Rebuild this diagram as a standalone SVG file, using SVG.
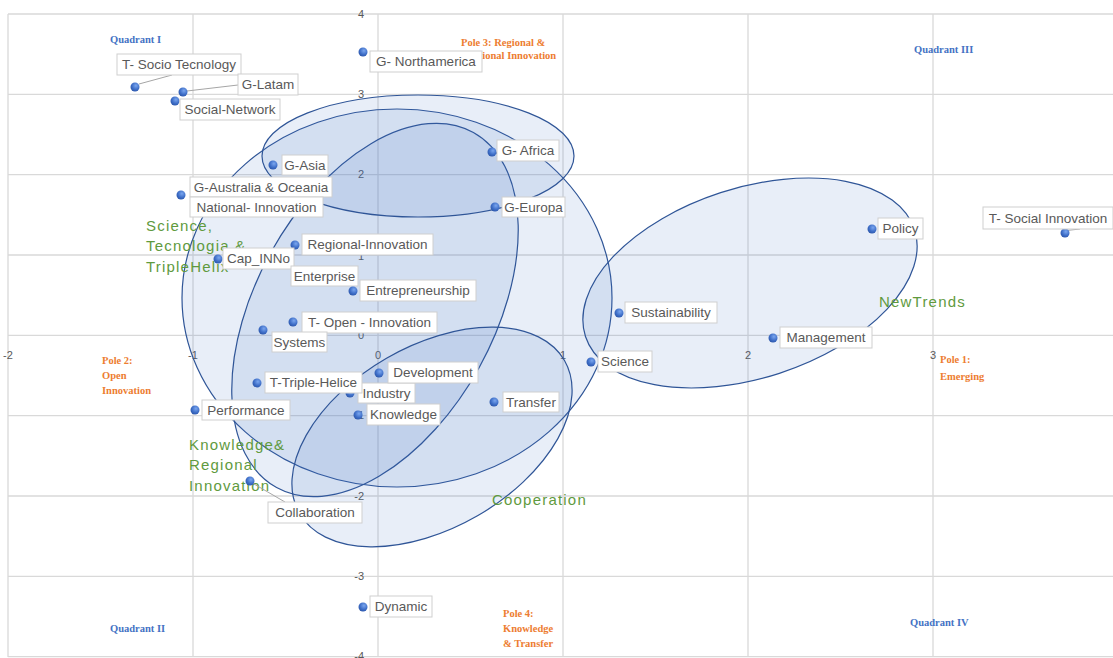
<svg xmlns="http://www.w3.org/2000/svg" width="1113" height="658" viewBox="0 0 1113 658">
<defs>
<style>
.grid{stroke:#d9d9d9;stroke-width:1.3;fill:none}
.axy{font-family:"Liberation Sans",Arial,sans-serif;font-size:11px;fill:#595959;text-anchor:end}
.axx{font-family:"Liberation Sans",Arial,sans-serif;font-size:11px;fill:#595959;text-anchor:middle}
.ell{fill:#4472c4;fill-opacity:0.12;stroke:#2f5597;stroke-width:1.2}
.grp{font-family:"Liberation Sans",Arial,sans-serif;font-size:15px;fill:#5f9a3e;letter-spacing:1.2px}
.pole{font-family:"Liberation Serif","Times New Roman",serif;font-size:10.5px;font-weight:bold;fill:#ed7d31}
.quad{font-family:"Liberation Serif","Times New Roman",serif;font-size:10.5px;font-weight:bold;fill:#4472c4}
.dot{fill:url(#dg)}
.box{fill:#ffffff;stroke:#cfcfcf;stroke-width:1}
.lbl{font-family:"Liberation Sans",Arial,sans-serif;font-size:13.5px;fill:#595959;text-anchor:middle}
.lead{stroke:#a6a6a6;stroke-width:1;fill:none}
</style>
<radialGradient id="dg" cx="0.6" cy="0.35" r="0.7">
<stop offset="0" stop-color="#7aa6ef"/>
<stop offset="0.6" stop-color="#3f6fc8"/>
<stop offset="1" stop-color="#2a54a8"/>
</radialGradient>
</defs>
<rect width="1113" height="658" fill="#ffffff"/>
<g id="grid">
<path class="grid" d="M8 14V657M193 14V657M378 14V657M563 14V657M748 14V657M933 14V657"/>
<path class="grid" d="M8 14H1113M8 94.3H1113M8 174.6H1113M8 255H1113M8 335.3H1113M8 415.6H1113M8 496H1113M8 576.3H1113M8 656.6H1113"/>
</g>
<g id="axis-labels">
<text class="axy" x="364" y="18">4</text>
<text class="axy" x="364" y="98">3</text>
<text class="axy" x="364" y="178">2</text>
<text class="axy" x="364" y="260">1</text>
<text class="axy" x="364" y="339">0</text>
<text class="axy" x="364" y="419">-1</text>
<text class="axy" x="364" y="500">-2</text>
<text class="axy" x="364" y="580">-3</text>
<text class="axy" x="364" y="660">-4</text>
<text class="axx" x="8" y="359">-2</text>
<text class="axx" x="193" y="359">-1</text>
<text class="axx" x="378" y="359">0</text>
<text class="axx" x="563" y="359">1</text>
<text class="axx" x="748" y="359">2</text>
<text class="axx" x="933" y="359">3</text>
</g>
<g id="clusters">
<ellipse id="cluster-science" class="ell" cx="397" cy="298" rx="215" ry="189"/>
<ellipse id="cluster-knowledge" class="ell" cx="375" cy="310" rx="203" ry="119" transform="rotate(-61 375 310)"/>
<ellipse id="cluster-geo" class="ell" cx="418" cy="156" rx="156" ry="61"/>
<ellipse id="cluster-cooperation" class="ell" cx="432" cy="437" rx="153" ry="91" transform="rotate(-30 432 437)"/>
<ellipse id="cluster-newtrends" class="ell" cx="750" cy="283" rx="173" ry="95" transform="rotate(-18 750 283)"/>
</g>
<g id="group-labels">
<text class="grp" x="146" y="231">Science,</text>
<text class="grp" x="146" y="251">Tecnologia &amp;</text>
<text class="grp" x="146" y="272">TripleHelix</text>
<text class="grp" x="189" y="450">Knowledge&amp;</text>
<text class="grp" x="189" y="470">Regional</text>
<text class="grp" x="189" y="491">Innovation</text>
<text class="grp" x="492" y="505">Cooperation</text>
<text class="grp" x="879" y="307">NewTrends</text>
</g>
<g id="poles">
<text class="pole" x="461" y="46">Pole 3: Regional &amp;</text>
<text class="pole" x="466" y="59">National Innovation</text>
<text class="pole" x="102" y="364">Pole 2:</text>
<text class="pole" x="102" y="379">Open</text>
<text class="pole" x="102" y="394">Innovation</text>
<text class="pole" x="940" y="363">Pole 1:</text>
<text class="pole" x="940" y="380">Emerging</text>
<text class="pole" x="503" y="617">Pole 4:</text>
<text class="pole" x="503" y="632">Knowledge</text>
<text class="pole" x="503" y="647">&amp; Transfer</text>
</g>
<g id="quadrants">
<text class="quad" x="110" y="43">Quadrant I</text>
<text class="quad" x="914" y="53">Quadrant III</text>
<text class="quad" x="110" y="632">Quadrant II</text>
<text class="quad" x="910" y="626">Quadrant IV</text>
</g>
<g id="connectors">
<path class="lead" d="M139 84L172 75"/>
<path class="lead" d="M187 91L238 85"/>
<path class="lead" d="M254 484L285 502"/>
<path class="lead" d="M1062 231L1080 229"/>
</g>
<g id="n-socio"><circle class="dot" cx="135" cy="87" r="4.5"/><rect class="box" x="117" y="54" width="124" height="21"/><text class="lbl" x="179" y="69">T- Socio Tecnology</text></g>
<g id="n-latam"><circle class="dot" cx="183" cy="92" r="4.5"/><rect class="box" x="238" y="74" width="60" height="21"/><text class="lbl" x="268" y="89">G-Latam</text></g>
<g id="n-social-network"><circle class="dot" cx="175" cy="101" r="4.5"/><rect class="box" x="180" y="99" width="100" height="21"/><text class="lbl" x="230" y="114">Social-Network</text></g>
<g id="n-northamerica"><circle class="dot" cx="363" cy="52" r="4.5"/><rect class="box" x="370" y="51" width="112" height="21"/><text class="lbl" x="426" y="66">G- Northamerica</text></g>
<g id="n-asia"><circle class="dot" cx="273" cy="165" r="4.5"/><rect class="box" x="282" y="155" width="46" height="20"/><text class="lbl" x="305" y="170">G-Asia</text></g>
<g id="n-australia"><circle class="dot" cx="181" cy="195" r="4.5"/><rect class="box" x="190" y="177" width="142" height="20"/><text class="lbl" x="261" y="192">G-Australia &amp; Oceania</text></g>
<g id="n-national"><rect class="box" x="190" y="197" width="133" height="20"/><text class="lbl" x="256.5" y="212">National- Innovation</text></g>
<g id="n-africa"><circle class="dot" cx="492" cy="152" r="4.5"/><rect class="box" x="497" y="140" width="62" height="21"/><text class="lbl" x="528" y="155">G- Africa</text></g>
<g id="n-europa"><circle class="dot" cx="495" cy="207" r="4.5"/><rect class="box" x="502" y="197" width="63" height="20"/><text class="lbl" x="533.5" y="212">G-Europa</text></g>
<g id="n-regional"><circle class="dot" cx="295" cy="245" r="4.5"/><rect class="box" x="302" y="234" width="131" height="21"/><text class="lbl" x="367.5" y="249">Regional-Innovation</text></g>
<g id="n-capinno"><circle class="dot" cx="218" cy="259" r="4.5"/><rect class="box" x="223" y="248" width="71" height="21"/><text class="lbl" x="258.5" y="263">Cap_INNo</text></g>
<g id="n-enterprise"><rect class="box" x="291" y="266" width="67" height="20"/><text class="lbl" x="324.5" y="281">Enterprise</text></g>
<g id="n-entrepreneurship"><circle class="dot" cx="353" cy="291" r="4.5"/><rect class="box" x="360" y="280" width="116" height="21"/><text class="lbl" x="418" y="295">Entrepreneurship</text></g>
<g id="n-open"><circle class="dot" cx="293" cy="322" r="4.5"/><rect class="box" x="302" y="312" width="135" height="21"/><text class="lbl" x="369.5" y="327">T- Open - Innovation</text></g>
<g id="n-systems"><circle class="dot" cx="263" cy="330" r="4.5"/><rect class="box" x="272" y="332" width="55" height="20"/><text class="lbl" x="299.5" y="347">Systems</text></g>
<g id="n-industry"><circle class="dot" cx="350" cy="393" r="4.5"/><rect class="box" x="358" y="383" width="57" height="20"/><text class="lbl" x="386.5" y="398">Industry</text></g>
<g id="n-triple"><circle class="dot" cx="257" cy="383" r="4.5"/><rect class="box" x="265" y="372" width="97" height="21"/><text class="lbl" x="313.5" y="387">T-Triple-Helice</text></g>
<g id="n-development"><circle class="dot" cx="379" cy="373" r="4.5"/><rect class="box" x="388" y="362" width="90" height="21"/><text class="lbl" x="433" y="377">Development</text></g>
<g id="n-knowledge"><circle class="dot" cx="358" cy="415" r="4.5"/><rect class="box" x="367" y="404" width="73" height="21"/><text class="lbl" x="403.5" y="419">Knowledge</text></g>
<g id="n-transfer"><circle class="dot" cx="494" cy="402" r="4.5"/><rect class="box" x="503" y="392" width="56" height="20"/><text class="lbl" x="531" y="407">Transfer</text></g>
<g id="n-performance"><circle class="dot" cx="195" cy="410" r="4.5"/><rect class="box" x="202" y="400" width="88" height="20"/><text class="lbl" x="246" y="415">Performance</text></g>
<g id="n-collaboration"><circle class="dot" cx="250" cy="481" r="4.5"/><rect class="box" x="268" y="502" width="94" height="21"/><text class="lbl" x="315" y="517">Collaboration</text></g>
<g id="n-dynamic"><circle class="dot" cx="363" cy="607" r="4.5"/><rect class="box" x="370" y="596" width="62" height="21"/><text class="lbl" x="401" y="611">Dynamic</text></g>
<g id="n-sustainability"><circle class="dot" cx="619" cy="313" r="4.5"/><rect class="box" x="625" y="302" width="92" height="21"/><text class="lbl" x="671" y="317">Sustainability</text></g>
<g id="n-science"><circle class="dot" cx="591" cy="362" r="4.5"/><rect class="box" x="598" y="351" width="54" height="21"/><text class="lbl" x="625" y="366">Science</text></g>
<g id="n-policy"><circle class="dot" cx="872" cy="229" r="4.5"/><rect class="box" x="878" y="218" width="45" height="21"/><text class="lbl" x="900.5" y="233">Policy</text></g>
<g id="n-management"><circle class="dot" cx="773" cy="338" r="4.5"/><rect class="box" x="780" y="327" width="92" height="21"/><text class="lbl" x="826" y="342">Management</text></g>
<g id="n-social-innovation"><circle class="dot" cx="1065" cy="233" r="4.5"/><rect class="box" x="983" y="207" width="130" height="22"/><text class="lbl" x="1048" y="222.5">T- Social Innovation</text></g>
</svg>
